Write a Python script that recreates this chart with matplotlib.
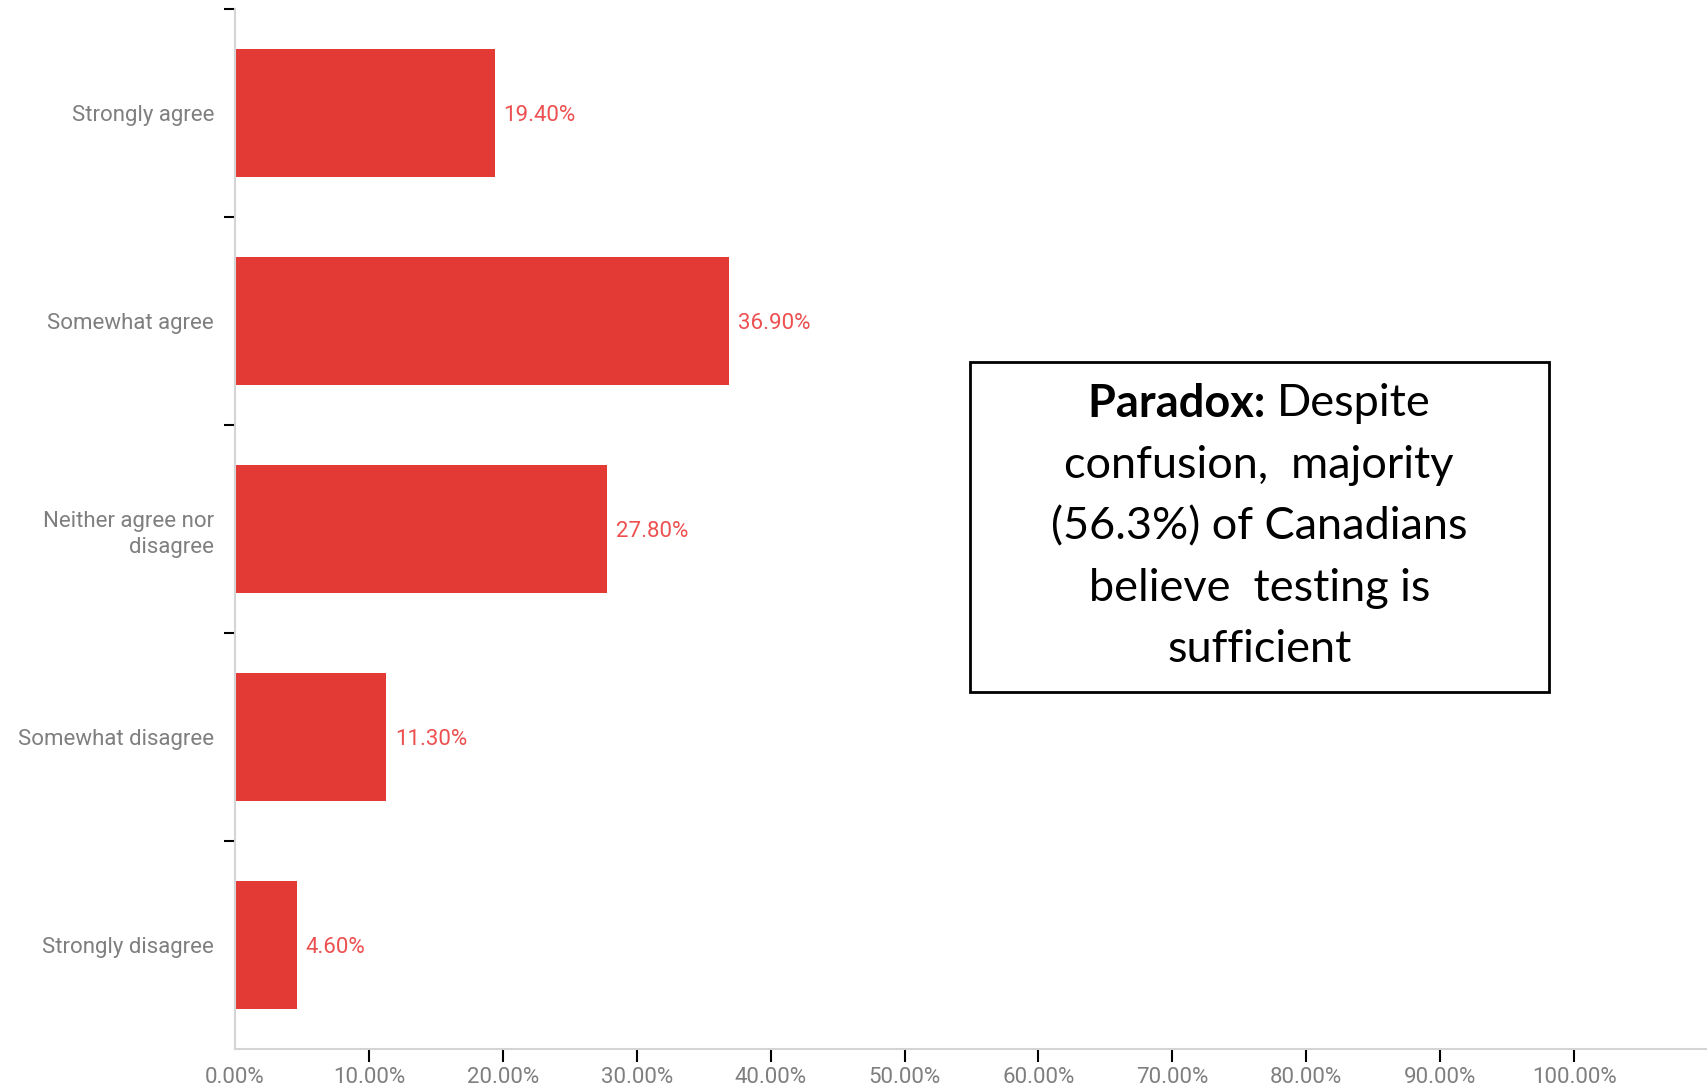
import matplotlib
matplotlib.use("Agg")
import matplotlib.pyplot as plt
from matplotlib.patches import Rectangle

categories = ["Strongly agree", "Somewhat agree", "Neither agree nor\ndisagree",
              "Somewhat disagree", "Strongly disagree"]
values = [19.40, 36.90, 27.80, 11.30, 4.60]
xticks = [0, 10, 20, 30, 40, 50, 60, 70, 80, 90, 100]
xticklabels = [f"{v:.2f}%" for v in xticks]
note_bold = "Paradox:"

W, H = 1708, 1089
fig = plt.figure(figsize=(W / 100, H / 100), dpi=100)
ax_l, ax_r, ax_t, ax_b = 235, 1708, 9, 1049
ax = fig.add_axes([ax_l / W, (H - ax_b) / H, (ax_r - ax_l) / W, (ax_b - ax_t) / H])

bar_color = "#E43A36"
label_red = "#EC5050"
gray = "#7f7f7f"
font = "Roboto"
fsl = 16

ypos = list(range(len(categories)))
ax.barh(ypos, values, height=0.62, color=bar_color)
ax.set_ylim(len(categories) - 0.5, -0.5)
ax.set_xlim(0, 110)

for y, v in zip(ypos, values):
    ax.text(v + 0.65, y, f"{v:.2f}%", va="center_baseline", ha="left", color=label_red,
            fontsize=fsl, family=font)

# y axis: boundary ticks (major) and category labels (minor)
ax.set_yticks([i - 0.5 for i in ypos])
ax.set_yticklabels([])
ax.tick_params(axis="y", which="major", length=8, width=1.5, color="black")
ax.set_yticks(ypos, minor=True)
ax.set_yticklabels(categories, minor=True, fontsize=fsl, color=gray, family=font,
                   linespacing=1.35)
ax.tick_params(axis="y", which="minor", length=0, pad=15)

ax.set_xticks(xticks)
ax.set_xticklabels(xticklabels, fontsize=fsl, color=gray, family=font)
ax.tick_params(axis="x", which="major", length=9, width=1.5, color="black", pad=4)
ax.xaxis.get_major_ticks()[0].tick1line.set_visible(False)

for s in ["top", "right"]:
    ax.spines[s].set_visible(False)
for s in ["left", "bottom"]:
    ax.spines[s].set_color("#d4d4d4")
    ax.spines[s].set_linewidth(1.5)

# annotation box
bx0, bx1, by0, by1 = 969.5, 1549, 361.6, 691.7
fig.patches.append(Rectangle((bx0 / W, (H - by1) / H), (bx1 - bx0) / W, (by1 - by0) / H,
                             transform=fig.transFigure, fill=False, edgecolor="black",
                             linewidth=2))
cx = (bx0 + bx1) / 2 / W
line_y = [404, 465.5, 527, 588.5, 650]
fs = 32.5
lines = ["confusion,  majority", "(56.3%) of Canadians", "believe  testing is", "sufficient"]
t1 = fig.text(0, 0, note_bold + " ", fontsize=fs, fontweight="bold", family="Lato")
t2 = fig.text(0, 0, "Despite", fontsize=fs, family="Lato")
fig.canvas.draw()
r = fig.canvas.get_renderer()
w1 = t1.get_window_extent(r).width
w2 = t2.get_window_extent(r).width
start = (bx0 + bx1) / 2 - (w1 + w2) / 2
for t, x in ((t1, start), (t2, start + w1)):
    t.set_position((x / W, (H - line_y[0]) / H))
    t.set_va("center")
for yy, txt in zip(line_y[1:], lines):
    fig.text(cx, (H - yy) / H, txt, fontsize=fs, family="Lato", ha="center", va="center")

fig.savefig("out.png", dpi=100)
